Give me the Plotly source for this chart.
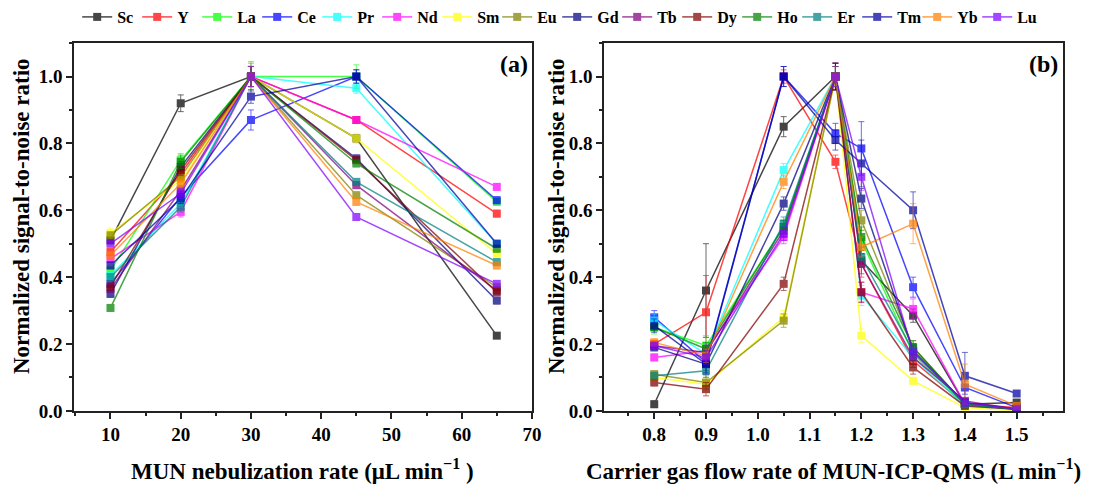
import plotly.graph_objects as go

names = ["Sc", "Y", "La", "Ce", "Pr", "Nd", "Sm", "Eu", "Gd", "Tb", "Dy", "Ho", "Er", "Tm", "Yb", "Lu"]
colors = ["#000000", "#FF0000", "#00FF00", "#0000FF", "#00FFFF", "#FF00FF", "#FFFF00", "#808000",
          "#000080", "#800080", "#800000", "#008000", "#008080", "#0000A0", "#FF8000", "#8000FF"]

# Panel (a): MUN nebulization rate (uL/min)
x_a = [10, 20, 30, 45, 65]
a_Sc = [0.51, 0.92, 1.00, 0.815, 0.225]
a_Y = [0.475, 0.71, 1.00, 0.87, 0.59]
a_La = [0.42, 0.75, 1.00, 1.00, 0.625]
a_Ce = [0.38, 0.64, 0.87, 1.00, 0.63]
a_Pr = [0.405, 0.62, 1.00, 0.965, 0.50]
a_Nd = [0.455, 0.595, 1.00, 0.87, 0.67]
a_Sm = [0.532, 0.69, 1.00, 0.815, 0.47]
a_Eu = [0.525, 0.70, 1.00, 0.645, 0.37]
a_Gd = [0.35, 0.73, 1.00, 0.755, 0.33]
a_Tb = [0.365, 0.66, 1.00, 0.675, 0.36]
a_Dy = [0.372, 0.72, 1.00, 0.75, 0.355]
a_Ho = [0.308, 0.745, 1.00, 0.74, 0.485]
a_Er = [0.40, 0.61, 1.00, 0.685, 0.445]
a_Tm = [0.435, 0.635, 0.94, 1.00, 0.50]
a_Yb = [0.465, 0.68, 1.00, 0.625, 0.435]
a_Lu = [0.50, 0.65, 1.00, 0.58, 0.38]

ea_Sc = [0.01, 0.025, 0.03, 0.01, 0.005]
ea_Y = [0.01, 0.015, 0.03, 0.01, 0.01]
ea_La = [0.01, 0.02, 0.045, 0.035, 0.01]
ea_Ce = [0.01, 0.015, 0.03, 0.02, 0.01]
ea_Pr = [0.01, 0.015, 0.03, 0.015, 0.01]
ea_Nd = [0.01, 0.015, 0.03, 0.01, 0.01]
ea_Sm = [0.015, 0.015, 0.03, 0.015, 0.01]
ea_Eu = [0.01, 0.015, 0.04, 0.01, 0.01]
ea_Gd = [0.01, 0.015, 0.03, 0.01, 0.01]
ea_Tb = [0.01, 0.015, 0.03, 0.01, 0.01]
ea_Dy = [0.01, 0.015, 0.03, 0.01, 0.01]
ea_Ho = [0.01, 0.02, 0.03, 0.01, 0.01]
ea_Er = [0.01, 0.015, 0.03, 0.01, 0.01]
ea_Tm = [0.01, 0.015, 0.02, 0.02, 0.01]
ea_Yb = [0.01, 0.015, 0.03, 0.01, 0.01]
ea_Lu = [0.01, 0.015, 0.03, 0.01, 0.01]

# Panel (b): carrier gas flow rate (L/min)
x_b = [0.8, 0.9, 1.05, 1.15, 1.2, 1.3, 1.4, 1.5]
b_Sc = [0.02, 0.36, 0.85, 1.00, 0.45, 0.285, 0.02, 0.025]
b_Y = [0.20, 0.295, 1.00, 0.745, 0.44, 0.15, 0.02, 0.01]
b_La = [0.25, 0.195, 0.55, 1.00, 0.51, 0.17, 0.02, 0.005]
b_Ce = [0.28, 0.145, 1.00, 0.83, 0.785, 0.37, 0.07, 0.01]
b_Pr = [0.27, 0.17, 0.72, 1.00, 0.345, 0.16, 0.015, 0.005]
b_Nd = [0.16, 0.18, 0.52, 1.00, 0.355, 0.305, 0.02, 0.005]
b_Sm = [0.10, 0.08, 0.28, 1.00, 0.225, 0.09, 0.01, 0.0]
b_Eu = [0.11, 0.085, 0.27, 1.00, 0.57, 0.19, 0.02, 0.005]
b_Gd = [0.19, 0.14, 0.62, 1.00, 0.635, 0.18, 0.025, 0.005]
b_Tb = [0.195, 0.175, 0.54, 1.00, 0.44, 0.16, 0.03, 0.005]
b_Dy = [0.085, 0.065, 0.38, 1.00, 0.355, 0.13, 0.015, 0.005]
b_Ho = [0.25, 0.185, 0.55, 1.00, 0.52, 0.19, 0.02, 0.005]
b_Er = [0.105, 0.12, 0.56, 1.00, 0.46, 0.18, 0.02, 0.005]
b_Tm = [0.255, 0.14, 1.00, 0.81, 0.74, 0.60, 0.105, 0.052]
b_Yb = [0.205, 0.165, 0.685, 1.00, 0.49, 0.56, 0.08, 0.015]
b_Lu = [0.195, 0.16, 0.53, 1.00, 0.70, 0.175, 0.025, 0.005]

eb_Sc = [0.01, 0.14, 0.03, 0.04, 0.02, 0.02, 0.01, 0.005]
eb_Y = [0.01, 0.11, 0.02, 0.02, 0.04, 0.02, 0.01, 0.005]
eb_La = [0.02, 0.03, 0.02, 0.03, 0.03, 0.02, 0.01, 0.005]
eb_Ce = [0.02, 0.03, 0.03, 0.03, 0.08, 0.03, 0.02, 0.005]
eb_Pr = [0.02, 0.03, 0.02, 0.03, 0.03, 0.03, 0.01, 0.005]
eb_Nd = [0.01, 0.02, 0.02, 0.03, 0.03, 0.03, 0.01, 0.005]
eb_Sm = [0.01, 0.02, 0.02, 0.03, 0.02, 0.01, 0.01, 0.005]
eb_Eu = [0.01, 0.02, 0.02, 0.03, 0.03, 0.02, 0.01, 0.005]
eb_Gd = [0.01, 0.02, 0.02, 0.04, 0.03, 0.02, 0.01, 0.005]
eb_Tb = [0.01, 0.02, 0.02, 0.04, 0.03, 0.02, 0.01, 0.005]
eb_Dy = [0.01, 0.02, 0.02, 0.04, 0.03, 0.02, 0.01, 0.005]
eb_Ho = [0.01, 0.02, 0.02, 0.03, 0.03, 0.02, 0.01, 0.005]
eb_Er = [0.01, 0.02, 0.02, 0.03, 0.03, 0.02, 0.01, 0.005]
eb_Tm = [0.02, 0.03, 0.03, 0.03, 0.07, 0.055, 0.07, 0.005]
eb_Yb = [0.01, 0.02, 0.02, 0.03, 0.03, 0.06, 0.06, 0.005]
eb_Lu = [0.01, 0.02, 0.02, 0.03, 0.04, 0.02, 0.01, 0.005]

ya = [a_Sc, a_Y, a_La, a_Ce, a_Pr, a_Nd, a_Sm, a_Eu, a_Gd, a_Tb, a_Dy, a_Ho, a_Er, a_Tm, a_Yb, a_Lu]
ea = [ea_Sc, ea_Y, ea_La, ea_Ce, ea_Pr, ea_Nd, ea_Sm, ea_Eu, ea_Gd, ea_Tb, ea_Dy, ea_Ho, ea_Er, ea_Tm, ea_Yb, ea_Lu]
yb = [b_Sc, b_Y, b_La, b_Ce, b_Pr, b_Nd, b_Sm, b_Eu, b_Gd, b_Tb, b_Dy, b_Ho, b_Er, b_Tm, b_Yb, b_Lu]
eb = [eb_Sc, eb_Y, eb_La, eb_Ce, eb_Pr, eb_Nd, eb_Sm, eb_Eu, eb_Gd, eb_Tb, eb_Dy, eb_Ho, eb_Er, eb_Tm, eb_Yb, eb_Lu]

FONT = "Liberation Serif"

fig = go.Figure()
for i, nm in enumerate(names):
    c = colors[i]
    fig.add_trace(go.Scatter(
        x=x_a, y=ya[i], name=nm, mode="lines+markers", legendgroup=nm,
        line=dict(color=c, width=1.5), opacity=0.72,
        marker=dict(symbol="square", size=8, color=c),
        error_y=dict(type="data", array=ea[i], color=c, thickness=0.8, width=3),
        xaxis="x", yaxis="y"))
    fig.add_trace(go.Scatter(
        x=x_b, y=yb[i], name=nm, mode="lines+markers", legendgroup=nm, showlegend=False,
        line=dict(color=c, width=1.5), opacity=0.72,
        marker=dict(symbol="square", size=8, color=c),
        error_y=dict(type="data", array=eb[i], color=c, thickness=0.8, width=3),
        xaxis="x2", yaxis="y2"))

axis_common = dict(showline=True, linecolor="#222", linewidth=1.5, mirror=True,
                   ticks="outside", ticklen=6, tickwidth=1.5, tickcolor="#222",
                   showgrid=False, zeroline=False, automargin=False,
                   tickfont=dict(family=FONT, size=19, color="black", weight="bold"))

fig.update_layout(
    width=1099, height=484,
    margin=dict(l=0, r=0, t=0, b=0, autoexpand=False),
    paper_bgcolor="white", plot_bgcolor="white",
    xaxis=dict(domain=[0.0673, 0.484], range=[4.8, 70], tickvals=[10, 20, 30, 40, 50, 60, 70],
               minor=dict(dtick=5, tick0=0, ticks="outside", ticklen=3, tickcolor="#222"),
               anchor="y", **axis_common),
    yaxis=dict(domain=[0.151, 0.911], range=[0, 1.1], tickvals=[0, 0.2, 0.4, 0.6, 0.8, 1.0],
               tickformat=".1f",
               minor=dict(dtick=0.1, tick0=0, ticks="outside", ticklen=3, tickcolor="#222"),
               anchor="x", **axis_common),
    xaxis2=dict(domain=[0.5496, 0.967], range=[0.703, 1.589],
                tickvals=[0.8, 0.9, 1.0, 1.1, 1.2, 1.3, 1.4, 1.5], tickformat=".1f",
                minor=dict(dtick=0.05, tick0=0, ticks="outside", ticklen=3, tickcolor="#222"),
                anchor="y2", **axis_common),
    yaxis2=dict(domain=[0.151, 0.911], range=[0, 1.1], tickvals=[0, 0.2, 0.4, 0.6, 0.8, 1.0],
                tickformat=".1f",
                minor=dict(dtick=0.1, tick0=0, ticks="outside", ticklen=3, tickcolor="#222"),
                anchor="x2", **axis_common),
    legend=dict(orientation="h", x=0.507, xanchor="center", y=1.0, yanchor="top",
                font=dict(family=FONT, size=16, color="black", weight="bold"),
                entrywidth=15, entrywidthmode="pixels", itemwidth=30,
                bgcolor="rgba(0,0,0,0)"),
    showlegend=True,
)

title_font = dict(family=FONT, size=23, color="black", weight="bold")
fig.add_annotation(text="MUN nebulization rate (μL min<sup>−1</sup> )", xref="paper", yref="paper",
                   x=0.2757, y=(484 - 469) / 484, xanchor="center", yanchor="middle",
                   showarrow=False, font=title_font)
fig.add_annotation(text="Carrier gas flow rate of MUN-ICP-QMS (L min<sup>−1</sup>)", xref="paper", yref="paper",
                   x=0.7583, y=(484 - 469) / 484, xanchor="center", yanchor="middle",
                   showarrow=False, font=title_font)
fig.add_annotation(text="Normalized signal-to-noise ratio", xref="paper", yref="paper",
                   x=22 / 1099, y=(484 - 216) / 484, textangle=-90, xanchor="center", yanchor="middle",
                   showarrow=False, font=title_font)
fig.add_annotation(text="Normalized signal-to-noise ratio", xref="paper", yref="paper",
                   x=557 / 1099, y=(484 - 216) / 484, textangle=-90, xanchor="center", yanchor="middle",
                   showarrow=False, font=title_font)
fig.add_annotation(text="(a)", xref="x domain", yref="y domain", x=0.995, y=0.985,
                   xanchor="right", yanchor="top", showarrow=False,
                   font=dict(family=FONT, size=24, color="black", weight="bold"))
fig.add_annotation(text="(b)", xref="x2 domain", yref="y2 domain", x=0.995, y=0.985,
                   xanchor="right", yanchor="top", showarrow=False,
                   font=dict(family=FONT, size=24, color="black", weight="bold"))

fig.write_html("out.html")
